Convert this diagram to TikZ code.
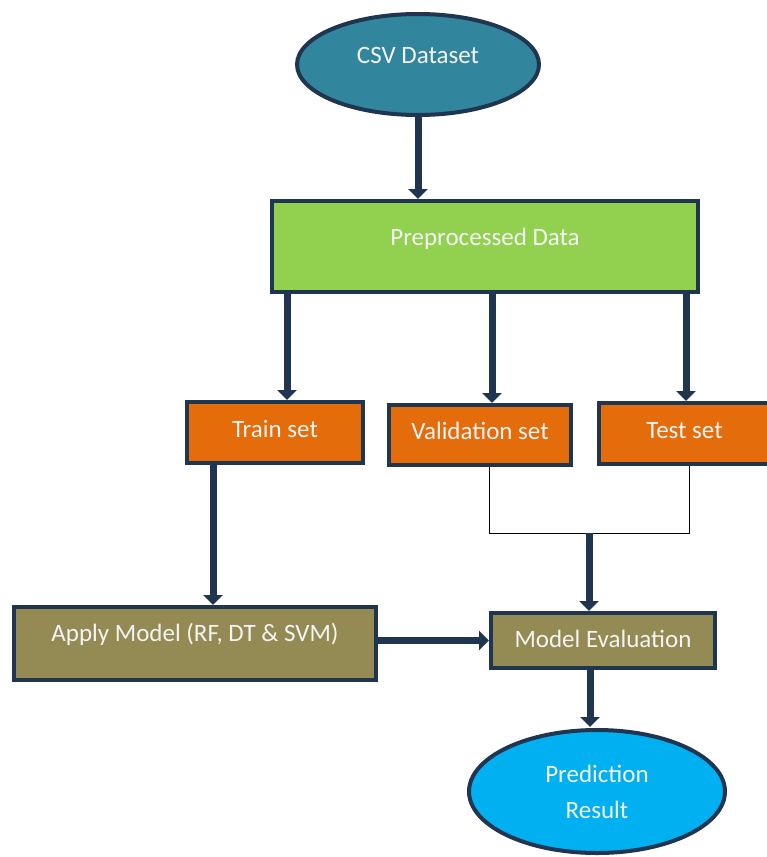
\documentclass[tikz,border=0pt]{standalone}
\usepackage{fontspec}
\setmainfont{Carlito}
\usetikzlibrary{arrows.meta,shapes.geometric}
\definecolor{navy}{HTML}{1F3550}
\definecolor{tealc}{HTML}{31859C}
\definecolor{greenc}{HTML}{92D050}
\definecolor{orangec}{HTML}{E46C0A}
\definecolor{olivec}{HTML}{948A54}
\definecolor{cyanc}{HTML}{00B0F0}
\definecolor{txt}{HTML}{F4F4F4}
\tikzset{
  base/.style={draw=navy, line width=4pt, inner sep=0pt, text=txt,
    font=\fontsize{25}{30}\selectfont},
  boxn/.style={base, rectangle},
  ell/.style={base, ellipse},
  thick arrow/.style={draw=navy, line width=7pt,
    -{Triangle[width=19pt,length=10pt]}},
  thin line/.style={draw=black, line width=0.9pt},
}
\begin{document}
\begin{tikzpicture}[x=1pt,y=-1pt]
\useasboundingbox (0,0) rectangle (767,857);
% nodes
\node[ell, fill=tealc, minimum width=242pt, minimum height=101pt,
  text height=16pt, text depth=19pt] (csv) at (418,64.5) {CSV Dataset};
\node[boxn, fill=greenc, minimum width=426pt, minimum height=91pt,
  text height=20pt, text depth=23pt] (pre) at (485,246.5) {Preprocessed Data};
\node[boxn, fill=orangec, minimum width=176pt, minimum height=61pt,
  text height=24pt, text depth=15pt] (train) at (275,432.5) {Train set};
\node[boxn, fill=orangec, minimum width=182pt, minimum height=60pt,
  text height=24pt, text depth=16pt] (val) at (480,435) {Validation set};
\node[boxn, fill=orangec, minimum width=171pt, minimum height=61pt,
  text height=24pt, text depth=15pt] (test) at (684.5,433.5) {Test set};
\node[boxn, fill=olivec, minimum width=362pt, minimum height=73pt,
  text height=17pt, text depth=22pt] (apply) at (195,643.5) {Apply Model (RF, DT \& SVM)};
\node[boxn, fill=olivec, minimum width=224pt, minimum height=55pt,
  text height=26pt, text depth=13pt] (eval) at (603,640.5) {Model Evaluation};
\node[ell, fill=cyanc, minimum width=256pt, minimum height=123pt,
  align=center, font=\fontsize{25}{36}\selectfont] (pred) at (597,791.5) {Prediction\\Result};
% helper coordinates
\coordinate (cTrain) at (287,0);
\coordinate (cVal) at (492,0);
\coordinate (cTest) at (686,0);
\coordinate (cApply) at (213,0);
\coordinate (cThinV) at (489,0);
\coordinate (cThinT) at (689,0);
\coordinate (cPred) at (590,0);
\coordinate (join) at (589,533);
\coordinate (jl) at (489,533);
\coordinate (jr) at (689,533);
% connectors
\draw[thick arrow] (csv.south) -- (pre.north -| csv.south);
\draw[thick arrow] (pre.south -| cTrain) -- (train.north -| cTrain);
\draw[thick arrow] (pre.south -| cVal) -- (val.north -| cVal);
\draw[thick arrow] (pre.south -| cTest) -- (test.north -| cTest);
\draw[thin line] (val.south -| cThinV) -- (jl) -- (jr) -- (test.south -| cThinT);
\draw[thick arrow] (join) -- (eval.north -| join);
\draw[thick arrow] (train.south -| cApply) -- (apply.north -| cApply);
\draw[thick arrow] (apply.east |- eval.west) -- (eval.west);
\draw[thick arrow] (eval.south -| cPred) -- ([yshift=1pt]pred.north -| cPred);
\end{tikzpicture}
\end{document}
